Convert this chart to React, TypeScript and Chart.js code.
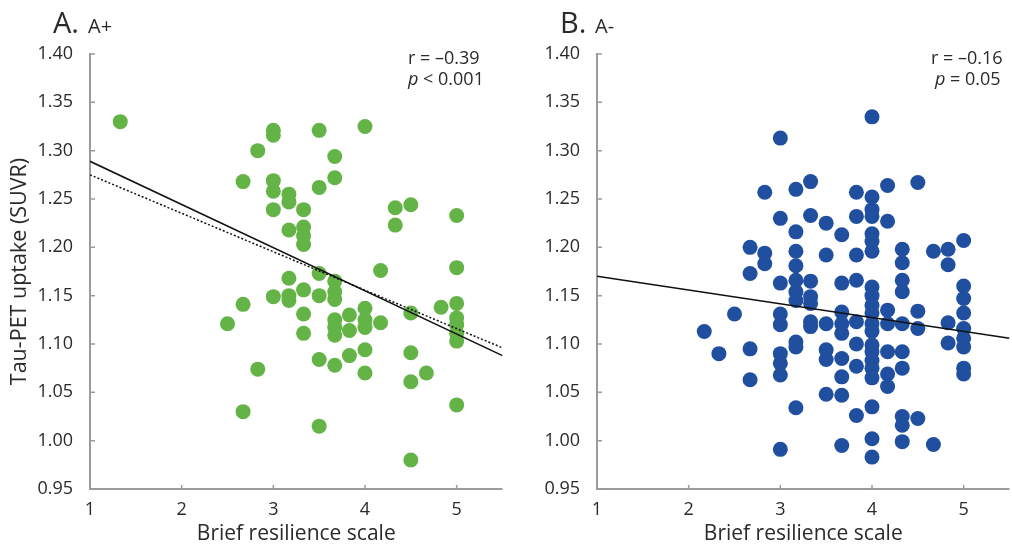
import React, { useEffect, useRef } from "react";
import { Chart, registerables } from "chart.js";

Chart.register(...registerables);

const FONT = '"Open Sans", "Noto Sans", sans-serif';
const TEXT = "#2a2a2a";
const AXIS = "#9b9b9b";

const xTicks = [1, 2, 3, 4, 5];
const yTicks = [0.95, 1.0, 1.05, 1.1, 1.15, 1.2, 1.25, 1.3, 1.35, 1.4];
const xTitle = "Brief resilience scale";
const yTitle = "Tau-PET uptake (SUVR)";

// Panel A (A+)
const aX = [
  1.33, 2.5, 2.67, 2.67, 2.67, 2.83, 2.83,
  3.0, 3.0, 3.0, 3.0, 3.0, 3.0,
  3.17, 3.17, 3.17, 3.17, 3.17, 3.17,
  3.33, 3.33, 3.33, 3.33, 3.33, 3.33, 3.33,
  3.5, 3.5, 3.5, 3.5, 3.5, 3.5,
  3.67, 3.67, 3.67, 3.67, 3.67, 3.67, 3.67, 3.67, 3.67,
  3.83, 3.83, 3.83,
  4.0, 4.0, 4.0, 4.0, 4.0, 4.0,
  4.17, 4.17, 4.33, 4.33,
  4.5, 4.5, 4.5, 4.5, 4.5,
  4.67, 4.83,
  5.0, 5.0, 5.0, 5.0, 5.0, 5.0, 5.0, 5.0,
];
const aY = [
  1.330, 1.121, 1.268, 1.141, 1.030, 1.300, 1.074,
  1.321, 1.316, 1.269, 1.258, 1.239, 1.149,
  1.255, 1.247, 1.218, 1.168, 1.150, 1.145,
  1.239, 1.221, 1.212, 1.203, 1.156, 1.131, 1.111,
  1.321, 1.262, 1.173, 1.150, 1.084, 1.015,
  1.294, 1.272, 1.165, 1.154, 1.146, 1.125, 1.117, 1.109, 1.078,
  1.130, 1.114, 1.088,
  1.325, 1.137, 1.125, 1.117, 1.094, 1.070,
  1.176, 1.122, 1.241, 1.223,
  1.244, 1.132, 1.091, 1.061, 0.980,
  1.070, 1.138,
  1.233, 1.179, 1.142, 1.127, 1.120, 1.111, 1.103, 1.037,
];

// Panel B (A-)
const bX = [
  2.17, 2.33, 2.5,
  2.67, 2.67, 2.67, 2.67,
  2.83, 2.83, 2.83,
  3.0, 3.0, 3.0, 3.0, 3.0, 3.0, 3.0, 3.0, 3.0,
  3.17, 3.17, 3.17, 3.17, 3.17, 3.17, 3.17, 3.17, 3.17, 3.17,
  3.33, 3.33, 3.33, 3.33, 3.33, 3.33, 3.33,
  3.5, 3.5, 3.5, 3.5, 3.5, 3.5,
  3.67, 3.67, 3.67, 3.67, 3.67, 3.67, 3.67, 3.67, 3.67,
  3.83, 3.83, 3.83, 3.83, 3.83, 3.83, 3.83, 3.83,
  4.0, 4.0, 4.0, 4.0, 4.0, 4.0, 4.0, 4.0, 4.0, 4.0, 4.0,
  4.0, 4.0, 4.0, 4.0, 4.0, 4.0, 4.0, 4.0, 4.0, 4.0,
  4.17, 4.17, 4.17, 4.17, 4.17, 4.17, 4.17,
  4.33, 4.33, 4.33, 4.33, 4.33, 4.33, 4.33, 4.33, 4.33, 4.33,
  4.5, 4.5, 4.5, 4.5,
  4.67, 4.67,
  4.83, 4.83, 4.83, 4.83,
  5.0, 5.0, 5.0, 5.0, 5.0, 5.0, 5.0, 5.0, 5.0,
];
const bY = [
  1.113, 1.090, 1.131,
  1.200, 1.173, 1.095, 1.063,
  1.257, 1.194, 1.183,
  1.313, 1.230, 1.163, 1.131, 1.120, 1.090, 1.080, 1.068, 0.991,
  1.260, 1.216, 1.196, 1.181, 1.166, 1.154, 1.145, 1.102, 1.097, 1.034,
  1.268, 1.233, 1.165, 1.149, 1.142, 1.123, 1.118,
  1.225, 1.192, 1.121, 1.094, 1.084, 1.048,
  1.213, 1.163, 1.133, 1.121, 1.111, 1.085, 1.066, 1.047, 0.995,
  1.257, 1.232, 1.192, 1.166, 1.123, 1.100, 1.077, 1.026,
  1.335, 1.252, 1.239, 1.232, 1.214, 1.206, 1.196, 1.159, 1.150, 1.140, 1.132,
  1.121, 1.113, 1.099, 1.092, 1.083, 1.075, 1.065, 1.035, 1.002, 0.983,
  1.264, 1.227, 1.135, 1.121, 1.092, 1.069, 1.056,
  1.198, 1.184, 1.166, 1.154, 1.121, 1.092, 1.075, 1.025, 1.016, 0.999,
  1.267, 1.134, 1.116, 1.023,
  1.196, 0.996,
  1.198, 1.182, 1.122, 1.101,
  1.207, 1.160, 1.147, 1.132, 1.116, 1.106, 1.097, 1.075, 1.069,
];

// Regression lines
const fitX = [1, 5.5];
const aFitY = [1.289, 1.088];
const aFitDottedY = [1.275, 1.096];
const bFitY = [1.17, 1.106];

type PanelDef = {
  xs: number[];
  ys: number[];
  color: string;
  fits: { ys: number[]; dash: number[] }[];
  letter: string;
  group: string;
  rText: string;
  pRest: string;
  rX: number;
  pX: number;
  showYTitle: boolean;
  rightPad: number;
};

const decoPlugin = {
  id: "panelDeco",
  beforeDatasetsDraw(chart: any) {
    const { ctx, chartArea: ca, scales } = chart;
    const x = scales.x;
    const y = scales.y;
    ctx.save();
    ctx.strokeStyle = AXIS;
    ctx.lineWidth = 2;
    ctx.beginPath();
    ctx.moveTo(ca.left, y.getPixelForValue(1.4) - 1);
    ctx.lineTo(ca.left, ca.bottom);
    ctx.lineTo(ca.right, ca.bottom);
    ctx.stroke();
    ctx.lineWidth = 1.5;
    ctx.beginPath();
    yTicks.forEach((v) => {
      const p = y.getPixelForValue(v);
      ctx.moveTo(ca.left, p);
      ctx.lineTo(ca.left + 5, p);
    });
    xTicks.forEach((v) => {
      const p = x.getPixelForValue(v);
      ctx.moveTo(p, ca.bottom);
      ctx.lineTo(p, ca.bottom - 4);
    });
    ctx.stroke();
    ctx.restore();
  },
  afterDraw(chart: any, _a: any, o: any) {
    const { ctx, chartArea: ca } = chart;
    const def: PanelDef = o.def;
    ctx.save();
    ctx.fillStyle = TEXT;
    ctx.textBaseline = "alphabetic";
    ctx.textAlign = "left";
    // panel letter
    ctx.font = `29px ${FONT}`;
    ctx.fillText(def.letter, ca.left - 37, 33);
    ctx.font = `20px ${FONT}`;
    ctx.fillText(def.group, ca.left - 2, 33);
    // stats
    ctx.font = `18px ${FONT}`;
    ctx.fillText(def.rText, def.rX, 64);
    ctx.font = `italic 18px ${FONT}`;
    ctx.fillText("p", def.pX, 85);
    const pw = ctx.measureText("p").width;
    ctx.font = `18px ${FONT}`;
    ctx.fillText(def.pRest, def.pX + pw, 85);
    // x title
    ctx.textAlign = "center";
    ctx.font = `21px ${FONT}`;
    ctx.fillText(xTitle, (ca.left + ca.right) / 2, 540);
    // y title
    if (def.showYTitle) {
      ctx.translate(26, (ca.top + ca.bottom) / 2);
      ctx.rotate(-Math.PI / 2);
      ctx.font = `21.5px ${FONT}`;
      ctx.fillText(yTitle, 0, 0);
    }
    ctx.restore();
  },
};

function makeChart(canvas: HTMLCanvasElement, def: PanelDef) {
  const points = def.xs.map((x, i) => ({ x, y: def.ys[i] }));
  const lineSets = def.fits.map((f) => ({
    data: fitX.map((x, i) => ({ x, y: f.ys[i] })),
    showLine: true,
    borderColor: "#111111",
    borderWidth: 1.5,
    borderDash: f.dash,
    pointRadius: 0,
    pointHoverRadius: 0,
    fill: false,
  }));
  return new Chart(canvas, {
    type: "scatter",
    data: {
      datasets: [
        ...lineSets,
        {
          data: points,
          backgroundColor: def.color,
          borderWidth: 0,
          pointRadius: 7.5,
          pointHoverRadius: 7.5,
        },
      ],
    } as any,
    options: {
      responsive: false,
      animation: false,
      events: [],
      layout: { padding: { top: 54, right: def.rightPad, left: 0, bottom: 0 } },
      plugins: {
        legend: { display: false },
        tooltip: { enabled: false },
        panelDeco: { def },
      } as any,
      scales: {
        x: {
          type: "linear",
          min: 1,
          max: 5.5,
          grid: { display: false },
          border: { display: false },
          afterBuildTicks: (s: any) => {
            s.ticks = xTicks.map((v) => ({ value: v }));
          },
          afterFit: (s: any) => {
            s.height = 55;
          },
          ticks: {
            padding: 2,
            color: TEXT,
            font: { family: FONT, size: 18 },
            callback: (v: any) => String(v),
          },
        },
        y: {
          type: "linear",
          min: 0.95,
          max: 1.4,
          grid: { display: false },
          border: { display: false },
          afterBuildTicks: (s: any) => {
            s.ticks = yTicks.map((v) => ({ value: v }));
          },
          afterFit: (s: any) => {
            s.width = 90;
          },
          ticks: {
            padding: 9,
            color: TEXT,
            font: { family: FONT, size: 18 },
            callback: (v: any) => Number(v).toFixed(2),
          },
        },
      },
    } as any,
    plugins: [decoPlugin as any],
  });
}

const panelA: PanelDef = {
  xs: aX,
  ys: aY,
  color: "#63b346",
  fits: [
    { ys: aFitY, dash: [] },
    { ys: aFitDottedY, dash: [2, 2] },
  ],
  letter: "A.",
  group: "A+",
  rText: "r = \u20130.39",
  pRest: " < 0.001",
  rX: 408,
  pX: 408,
  showYTitle: true,
  rightPad: 7,
};

const panelB: PanelDef = {
  xs: bX,
  ys: bY,
  color: "#1f4f9e",
  fits: [{ ys: bFitY, dash: [] }],
  letter: "B.",
  group: "A-",
  rText: "r = \u20130.16",
  pRest: " = 0.05",
  rX: 424,
  pX: 428,
  showYTitle: false,
  rightPad: 3,
};

function Panel({ def, left }: { def: PanelDef; left: number }) {
  const ref = useRef<HTMLCanvasElement>(null);
  useEffect(() => {
    if (!ref.current) return;
    const c = makeChart(ref.current, def);
    return () => c.destroy();
  }, [def]);
  return (
    <canvas
      ref={ref}
      width={510}
      height={544}
      style={{ position: "absolute", left, top: 0, width: 510, height: 544 }}
    />
  );
}

export default function App() {
  return (
    <div
      style={{
        position: "absolute",
        left: 0,
        top: 0,
        width: 1012,
        height: 544,
        overflow: "hidden",
        background: "#ffffff",
      }}
    >
      <Panel def={panelA} left={0} />
      <Panel def={panelB} left={507} />
    </div>
  );
}
